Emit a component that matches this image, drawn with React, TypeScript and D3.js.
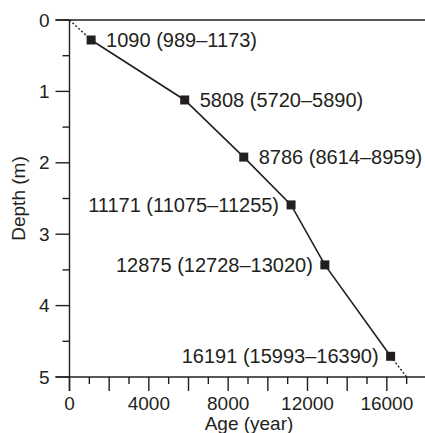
import React from 'react'
import * as d3 from 'd3'

// Calibrated ages (median and range) against core depth
const ages = [1090, 5808, 8786, 11171, 12875, 16191]
const depths = [0.28, 1.12, 1.92, 2.59, 3.43, 4.71]
const ageLow = [989, 5720, 8614, 11075, 12728, 15993]
const ageHigh = [1173, 5890, 8959, 11255, 13020, 16390]
const labelSide = ['right', 'right', 'right', 'left', 'left', 'left']

// Extrapolated ends of the age model (dotted)
const topAnchor = [0, 0]
const bottomAnchor = [17000, 5]

const xTickLabels = [0, 4000, 8000, 12000, 16000]
const yTickLabels = [0, 1, 2, 3, 4, 5]

const INK = '#231f20'
const FONT = 'Arial, "Liberation Sans", Helvetica, sans-serif'

/**
 * @function App
 *
 * Age–depth model, drawn as plain SVG with d3 scales.
 */
export default function App () {
  const width = 425
  const height = 433

  const xScale = d3.scaleLinear().domain([0, 18000]).range([69.5, 426.5])
  const yScale = d3.scaleLinear().domain([0, 5]).range([20, 377])

  const x0 = xScale(0)
  const yBottom = yScale(5)
  const yTop = yScale(0)

  const points = ages.map((a, i) => [a, depths[i]] as [number, number])

  const line = d3.line<[number, number]>()
    .x((d) => xScale(d[0]))
    .y((d) => yScale(d[1]))

  const xMinor = d3.range(0, 18000, 1000)
  const yMinor = d3.range(0, 5.01, 0.5)

  const majorLen = 14
  const minorLen = 7
  const size = 9

  return (
    <svg
      width={width}
      height={height}
      style={{ position: 'absolute', left: 0, top: 0, background: '#fff' }}
      fontFamily={FONT}
    >
      {/* frame lines */}
      <line x1={x0 - majorLen} x2={width} y1={yTop} y2={yTop} stroke={INK} strokeWidth={1.4} />
      <line x1={x0 - majorLen} x2={width} y1={yBottom} y2={yBottom} stroke={INK} strokeWidth={1.4} />
      <line x1={x0} x2={x0} y1={yTop} y2={yBottom + majorLen} stroke={INK} strokeWidth={1.4} />

      {/* y ticks */}
      {yMinor.map((v) => {
        const major = Math.abs(v - Math.round(v)) < 1e-6
        return (
          <line key={'yt' + v} x1={x0 - (major ? majorLen : minorLen)} x2={x0}
            y1={yScale(v)} y2={yScale(v)} stroke={INK} strokeWidth={1.4} />
        )
      })}
      {yTickLabels.map((v) => (
        <text key={'yl' + v} x={x0 - majorLen - 6} y={yScale(v)} textAnchor='end'
          dominantBaseline='central' fontSize={19} fill={INK}>{v}</text>
      ))}

      {/* x ticks */}
      {xMinor.map((v) => {
        const major = v % 2000 === 0
        return (
          <line key={'xt' + v} x1={xScale(v)} x2={xScale(v)} y1={yBottom}
            y2={yBottom + (major ? majorLen : minorLen)} stroke={INK} strokeWidth={1.4} />
        )
      })}
      {xTickLabels.map((v) => (
        <text key={'xl' + v} x={xScale(v)} y={403} textAnchor='middle'
          dominantBaseline='central' fontSize={19} fill={INK}>{v}</text>
      ))}

      {/* axis titles */}
      <text x={249} y={423} textAnchor='middle' dominantBaseline='central' fontSize={19} fill={INK}>
        Age (year)
      </text>
      <text transform={`translate(18,${(yTop + yBottom) / 2}) rotate(-90)`} textAnchor='middle'
        dominantBaseline='central' fontSize={19} fill={INK}>
        Depth (m)
      </text>

      {/* dotted extrapolations */}
      <path d={line([topAnchor as [number, number], points[0]]) || ''} fill='none'
        stroke={INK} strokeWidth={1.4} strokeDasharray='2,2' />
      <path d={line([points[points.length - 1], bottomAnchor as [number, number]]) || ''} fill='none'
        stroke={INK} strokeWidth={1.4} strokeDasharray='2,2' />

      {/* age model */}
      <path d={line(points) || ''} fill='none' stroke={INK} strokeWidth={1.6} />

      {points.map((p, i) => (
        <rect key={'m' + i} x={xScale(p[0]) - size / 2} y={yScale(p[1]) - size / 2}
          width={size} height={size} fill={INK} />
      ))}

      {points.map((p, i) => {
        const right = labelSide[i] === 'right'
        return (
          <text key={'lab' + i} x={xScale(p[0]) + (right ? 15 : -12)} y={yScale(p[1])}
            textAnchor={right ? 'start' : 'end'} dominantBaseline='central'
            fontSize={20} fill={INK}>
            {`${ages[i]} (${ageLow[i]}–${ageHigh[i]})`}
          </text>
        )
      })}
    </svg>
  )
}
